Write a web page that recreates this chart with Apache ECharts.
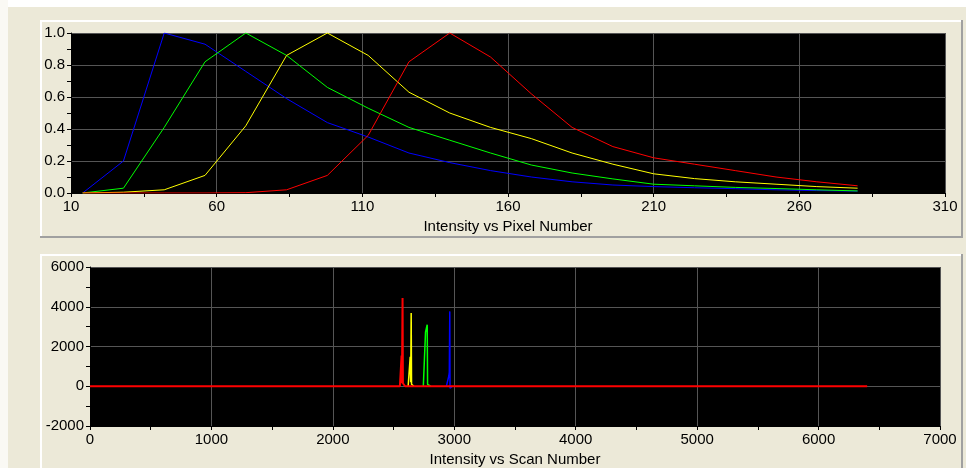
<!DOCTYPE html>
<html>
<head>
<meta charset="utf-8">
<title>Intensity</title>
<script src="https://cdn.jsdelivr.net/npm/echarts@6/dist/echarts.min.js"></script>
<style>
  html, body { margin: 0; padding: 0; background: #ECE9D8; }
  #chart { width: 966px; height: 468px; }
</style>
</head>
<body>
<div id="chart"></div>
<script>
// top chart: intensity vs pixel number
const pixels = [14, 28, 42, 56, 70, 84, 98, 112, 126, 140, 154, 168, 182, 196, 210, 224, 238, 252, 266, 280]
const pixBlue = [0, 0.2, 1.0, 0.93, 0.76, 0.59, 0.44, 0.35, 0.25, 0.19, 0.14, 0.10, 0.07, 0.05, 0.04, 0.033, 0.027, 0.02, 0.015, 0.012]
const pixGreen = [0, 0.03, 0.41, 0.82, 1.0, 0.86, 0.66, 0.53, 0.41, 0.33, 0.25, 0.175, 0.125, 0.088, 0.055, 0.045, 0.035, 0.028, 0.02, 0.013]
const pixYellow = [0, 0.005, 0.02, 0.11, 0.42, 0.86, 1.0, 0.86, 0.63, 0.50, 0.41, 0.34, 0.25, 0.18, 0.12, 0.09, 0.07, 0.055, 0.04, 0.03]
const pixRed = [0, 0, 0, 0, 0.002, 0.02, 0.11, 0.36, 0.82, 1.0, 0.85, 0.62, 0.41, 0.29, 0.22, 0.18, 0.14, 0.10, 0.07, 0.045]

// bottom chart: intensity vs scan number (points around each peak; red carries the baseline)
const scanBlue = [[2935, 0], [2948, 40], [2955, 517], [2959, 700], [2963, 3767], [2965, -100], [2972, 0], [2985, 0]]
const scanGreen = [[2745, 0], [2752, 80], [2763, 2717], [2770, 2650], [2777, 3100], [2780, 100], [2792, 0], [2805, 0]]
const scanYellow = [[2620, 0], [2630, 60], [2637, 1483], [2641, 200], [2645, 3683], [2648, 100], [2656, 0], [2668, 0]]
const scanRed = [[0, 0], [2490, 0], [2499, 40], [2505, 0], [2552, 0], [2560, 80], [2566, 1550], [2569, 150], [2574, 4435], [2577, 150], [2585, 60], [2595, 0], [6400, 0]]

const font = 'Liberation Sans, Arial, sans-serif'
const colors = ['#0000ff', '#00ff00', '#ffff00', '#ff0000']

const chart = echarts.init(document.getElementById('chart'))

// 坐标轴公共样式
const axisBase = (extra, fmt) => ({
  type: 'value',
  axisLine: { show: true, onZero: false, lineStyle: { color: '#000', width: 1 } },
  axisTick: { show: true, length: 4, lineStyle: { color: '#000' } },
  minorTick: { show: true, splitNumber: 2, length: 4, lineStyle: { color: '#000' } },
  splitLine: { show: true, lineStyle: { color: '#555555', width: 1 } },
  axisLabel: { color: '#000', fontFamily: font, fontSize: 15, margin: 6, formatter: fmt },
  nameTextStyle: { color: '#000', fontFamily: font, fontSize: 15 },
  ...extra
})

const plain = v => String(v)
const pairs = (xs, ys) => xs.map((x, i) => [x, ys[i]])

const lineSeries = (name, data, color, idx, width) => ({
  name,
  type: 'line',
  xAxisIndex: idx,
  yAxisIndex: idx,
  data,
  symbol: 'none',
  lineStyle: { color, width },
  animation: false
})

// 面板边框
const panelRects = [
  { x: 0, y: 0, width: 966, height: 7, fill: '#ffffff' },
  { x: 0, y: 0, width: 8, height: 468, fill: '#faf9f4' },
  { x: 40, y: 20, width: 921, height: 2, fill: '#ffffff' },
  { x: 40, y: 20, width: 2, height: 217, fill: '#ffffff' },
  { x: 40, y: 236, width: 923, height: 2, fill: '#a0a0a0' },
  { x: 961, y: 20, width: 2, height: 218, fill: '#a0a0a0' },
  { x: 40, y: 254, width: 921, height: 2, fill: '#ffffff' },
  { x: 40, y: 254, width: 2, height: 214, fill: '#ffffff' },
  { x: 961, y: 254, width: 2, height: 214, fill: '#a0a0a0' }
]

const option = {
  backgroundColor: '#ECE9D8',
  animation: false,
  graphic: panelRects.map(r => ({
    type: 'rect',
    silent: true,
    shape: { x: r.x, y: r.y, width: r.width, height: r.height },
    style: { fill: r.fill }
  })),
  grid: [
    { left: 71, top: 33, width: 874, height: 160, show: true, backgroundColor: '#000', borderWidth: 0 },
    { left: 90, top: 267, width: 850, height: 160, show: true, backgroundColor: '#000', borderWidth: 0 }
  ],
  xAxis: [
    axisBase({
      gridIndex: 0, min: 10, max: 310, interval: 50,
      name: 'Intensity vs Pixel Number', nameLocation: 'middle', nameGap: 26
    }, plain),
    axisBase({
      gridIndex: 1, min: 0, max: 7000, interval: 1000,
      name: 'Intensity vs Scan Number', nameLocation: 'middle', nameGap: 26
    }, plain)
  ],
  yAxis: [
    axisBase({ gridIndex: 0, min: 0, max: 1, interval: 0.2 }, v => v.toFixed(1)),
    axisBase({ gridIndex: 1, min: -2000, max: 6000, interval: 2000 }, plain)
  ],
  series: [
    lineSeries('blue', pairs(pixels, pixBlue), colors[0], 0, 1),
    lineSeries('green', pairs(pixels, pixGreen), colors[1], 0, 1),
    lineSeries('yellow', pairs(pixels, pixYellow), colors[2], 0, 1),
    lineSeries('red', pairs(pixels, pixRed), colors[3], 0, 1),
    lineSeries('blue', scanBlue, colors[0], 1, 1.5),
    lineSeries('green', scanGreen, colors[1], 1, 1.5),
    lineSeries('yellow', scanYellow, colors[2], 1, 1.5),
    lineSeries('red', scanRed, colors[3], 1, 2)
  ]
}

chart.setOption(option)
</script>
</body>
</html>
